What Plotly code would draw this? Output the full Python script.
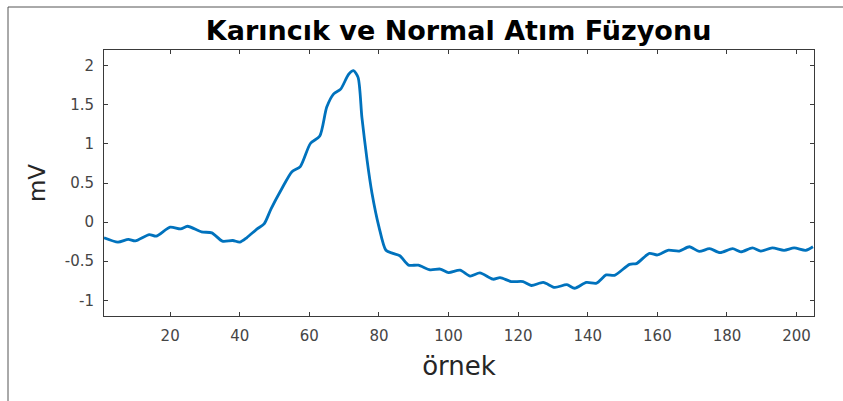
import plotly.graph_objects as go

# Fused ventricular + normal beat, sampled trace (mV)
sample = [1, 5, 8, 10, 14, 16, 20, 23, 25, 29, 32, 35, 38, 40, 42, 45, 47, 49,
          52, 55, 57.4, 60.3, 63, 65, 67, 69, 71.3, 72.7, 74, 75.1, 76.6, 78, 80,
          82, 84, 86, 88.5, 91.3, 94.7, 97.6, 100, 103.3, 106.2, 109, 112.8,
          114.8, 118, 121.4, 123.8, 127.2, 130.5, 134, 136.2, 139.6, 142.5,
          145.3, 147.7, 152, 154, 157.7, 160, 163, 166.3, 169.2, 172, 175, 178,
          181.6, 184, 187.3, 189.7, 193, 196.4, 199.3, 202.6, 204.7]
mv = [-0.20, -0.255, -0.22, -0.24, -0.16, -0.18, -0.065, -0.087, -0.053, -0.125,
      -0.137, -0.243, -0.235, -0.256, -0.20, -0.087, -0.023, 0.17,
      0.42, 0.645, 0.71, 1.005, 1.10, 1.47, 1.64, 1.70, 1.89, 1.935, 1.85, 1.34,
      0.79, 0.37, -0.06, -0.36, -0.40, -0.43, -0.55, -0.55, -0.61, -0.60, -0.645,
      -0.615, -0.69, -0.65, -0.73, -0.71, -0.76, -0.76, -0.81, -0.77, -0.835,
      -0.80, -0.845, -0.77, -0.78, -0.675, -0.68, -0.54, -0.53, -0.40, -0.42,
      -0.36, -0.37, -0.315, -0.375, -0.34, -0.39, -0.34, -0.38, -0.33, -0.37,
      -0.33, -0.36, -0.33, -0.36, -0.315]

x_ticks = [20, 40, 60, 80, 100, 120, 140, 160, 180, 200]
y_ticks = [-1, -0.5, 0, 0.5, 1, 1.5, 2]
y_tick_text = ["-1", "-0.5", "0", "0.5", "1", "1.5", "2"]

axis_color = "#3a3a3a"
tick_font = dict(family="DejaVu Sans", size=15, color="#454545")

fig = go.Figure()
fig.add_trace(go.Scatter(
    x=sample, y=mv, mode="lines",
    line=dict(color="#0072BD", width=2.8, shape="spline", smoothing=0.7),
    showlegend=False, hoverinfo="skip",
))

fig.update_layout(
    width=843, height=401,
    margin=dict(l=104, r=29, t=50, b=85),
    paper_bgcolor="white", plot_bgcolor="white",
    title=dict(text="<b>Karıncık ve Normal Atım Füzyonu</b>",
               x=0.544, xanchor="center", y=0.925, yanchor="middle",
               font=dict(family="DejaVu Sans", size=27, color="black")),
    xaxis=dict(range=[1, 205], tickvals=x_ticks, ticks="inside", ticklen=4,
               tickcolor=axis_color, showline=True, linecolor=axis_color,
               linewidth=1, mirror="ticks", showgrid=False, zeroline=False,
               tickfont=tick_font, ticklabelstandoff=6,
               title=dict(text="örnek", standoff=12,
                          font=dict(family="DejaVu Sans", size=26, color="#262626"))),
    yaxis=dict(range=[-1.2, 2.2], tickvals=y_ticks, ticktext=y_tick_text,
               ticks="inside", ticklen=4, tickcolor=axis_color, showline=True,
               linecolor=axis_color, linewidth=1, mirror="ticks",
               showgrid=False, zeroline=False, tickfont=tick_font,
               ticklabelstandoff=6,
               title=dict(text="mV", standoff=12,
                          font=dict(family="DejaVu Sans", size=23, color="#262626"))),
)

# thin frame along the top and left of the figure
top = (316 - 7) / 266
left = -96 / 710
fig.add_shape(type="line", xref="paper", yref="paper",
              x0=left, x1=1.06, y0=top, y1=top,
              line=dict(color="#555555", width=1))
fig.add_shape(type="line", xref="paper", yref="paper",
              x0=left, x1=left, y0=top, y1=-0.4,
              line=dict(color="#555555", width=1))

fig.write_html("out.html", config={"displayModeBar": False})
